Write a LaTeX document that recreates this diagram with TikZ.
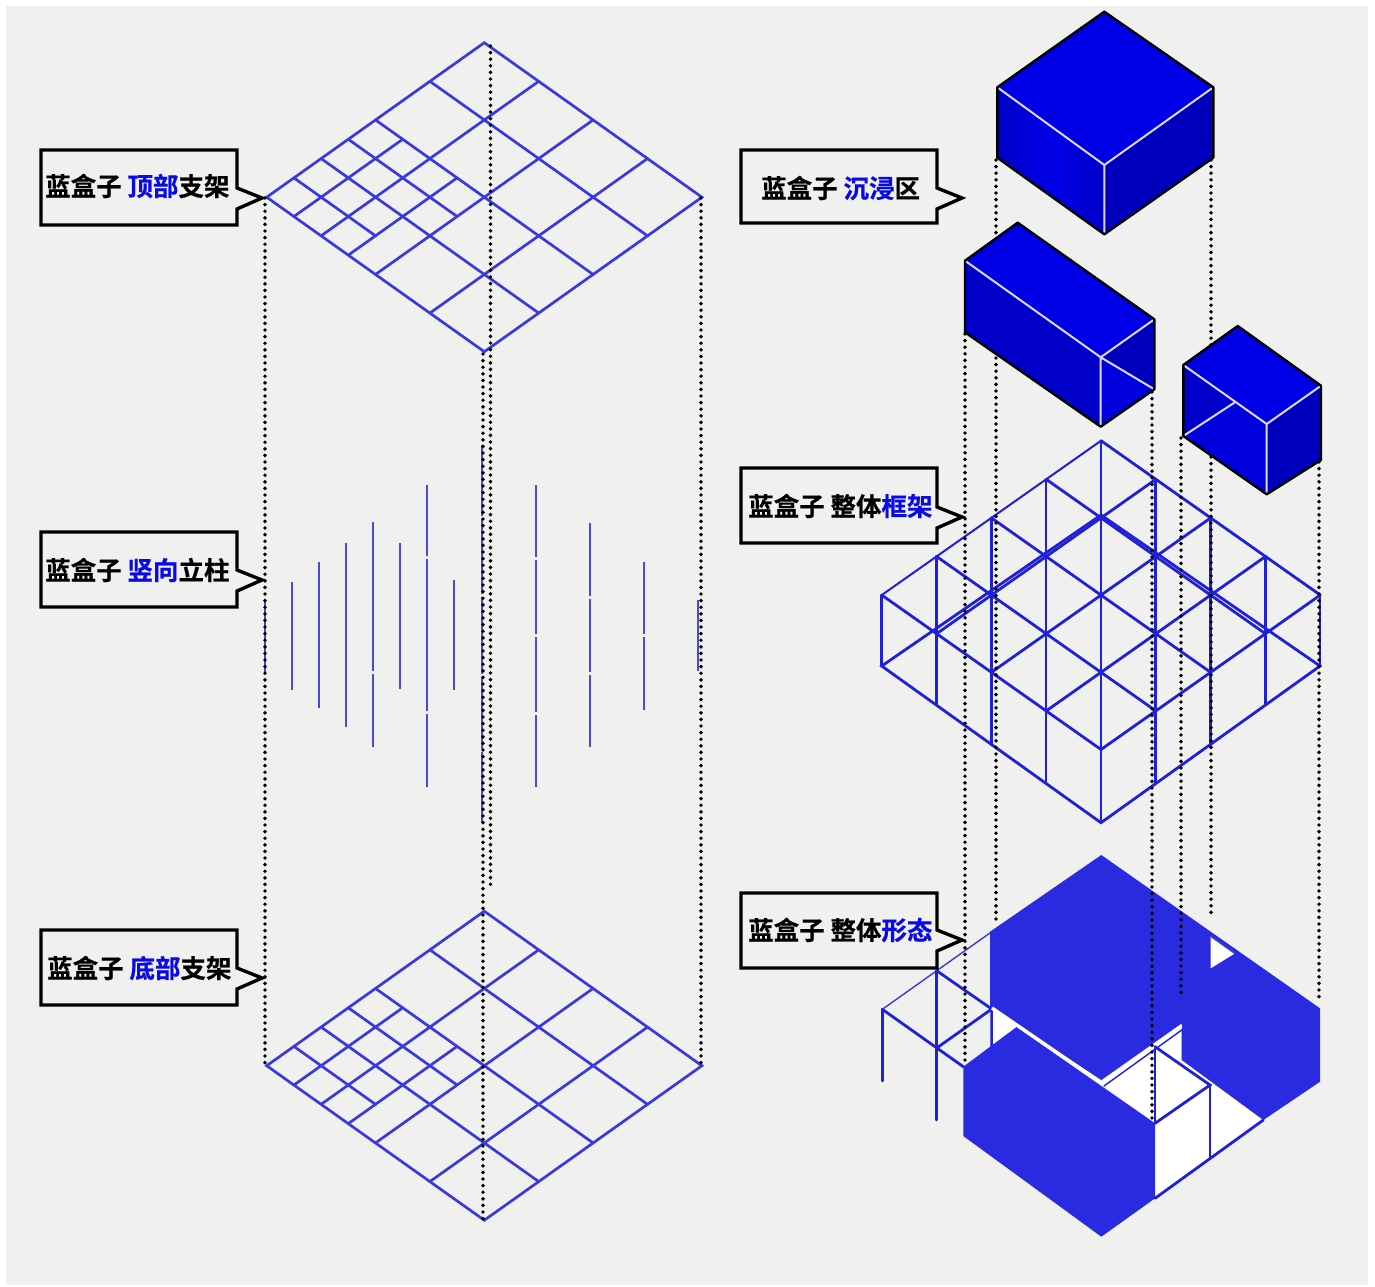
\documentclass[tikz,border=0pt]{standalone}
\usepackage{fontspec}
\setmainfont{Noto Sans CJK SC}[BoldFont={Noto Sans CJK SC Bold},BoldFeatures={FakeBold=0.6}]
\definecolor{bgc}{HTML}{F0F0EF}
\definecolor{gridc}{HTML}{3A3ADC}
\definecolor{postc}{HTML}{4A4AD8}
\definecolor{formc}{HTML}{2A2AE0}
\definecolor{framec}{HTML}{2020D8}
\definecolor{topc}{HTML}{0000E6}
\definecolor{leftc}{HTML}{0000C8}
\definecolor{rightc}{HTML}{0000BC}
\definecolor{brightc}{HTML}{0000DC}
\definecolor{labelc}{HTML}{0A0AE6}
\tikzset{
  gridline/.style={draw=gridc,line width=2.7pt,line cap=round},
  postline/.style={draw=postc,line width=2.6pt},
  frameline/.style={draw=framec,line width=2.8pt,line cap=round},
  thinline/.style={draw=gridc,line width=1.4pt},
  dotline/.style={draw=black,line width=3.9pt,line cap=round,dash pattern=on 0pt off 6.6pt},
  callout/.style={draw=black,line width=3.4pt,line join=miter,fill=bgc},
  calltext/.style={anchor=west,inner sep=0pt,font=\bfseries\fontsize{25.5}{27}\selectfont,text=black},
  boxedge/.style={draw=black,line width=2.4pt,line join=round},
  boxinner/.style={draw=white!85!blue,line width=2pt},
  gapdot/.style={draw=bgc,line width=4pt}
}
\newcommand{\bluepart}[1]{\textcolor{labelc}{#1}}
% isometric support grid, drawn at vertical offset #1
\newcommand{\supportgrid}[1]{%
  \begin{scope}[shift={(0,#1)}]
    \draw[gridline] (484.3,42.7)--(701.9,197.2)--(484.3,351.7)--(266.7,197.2)--cycle;
    \foreach \c in {2,4,6} {
      \draw[gridline] (484.3+\c*27.2-0*27.2,42.7+\c*19.31) -- (484.3+\c*27.2-8*27.2,42.7+\c*19.31+8*19.31);
      \draw[gridline] (484.3-\c*27.2,42.7+\c*19.31) -- (484.3-\c*27.2+8*27.2,42.7+\c*19.31+8*19.31);
    }
    \foreach \u in {1,3} \draw[gridline] (484.3+\u*27.2-4*27.2,42.7+\u*19.31+4*19.31) -- (484.3+\u*27.2-8*27.2,42.7+\u*19.31+8*19.31);
    \draw[gridline] (484.3-5*27.2,42.7+5*19.31) -- (484.3+4*27.2-5*27.2,42.7+9*19.31);
    \draw[gridline] (484.3-7*27.2,42.7+7*19.31) -- (484.3+3*27.2-7*27.2,42.7+10*19.31);
  \end{scope}}
% speech label: left, top, right, bottom, tip y, tip x
\newcommand{\calloutbox}[6]{%
  \draw[callout] (#1,#2) -- (#3,#2) -- (#3,#5-10) -- (#6,#5) -- (#3,#5+11) -- (#3,#4) -- (#1,#4) -- cycle;}
\begin{document}
\begin{tikzpicture}[x=1pt,y=-1pt]
\useasboundingbox (0,0) rectangle (1375,1286);
\fill[white] (0,0) rectangle (1375,1286);
\fill[bgc] (6,6) rectangle (1368,1285);

% ---- left column: supports ----
\supportgrid{0}
\supportgrid{868.5}

% vertical posts
\foreach \x/\a/\b in {265/600/672,292/582/690,319/562/708,346/543/727,373/522/747,400/543/689,427/485/787,454/580/690,482/445/823,536/485/787,590/523/747,644/562/710,698/600/671}
  \draw[postline] (\x,\a) -- (\x,\b);
\foreach \x/\y in {427/557,427/712,536/558,536/635,536/713,590/597,590/673,644/635,373/672,482/595,482/675,482/750,482/517}
  \draw[gapdot] (\x,\y-1.5) -- (\x,\y+1.5);

% dotted projection lines, left column
\coordinate (lt) at (265,198);
\coordinate (lb) at (265,1064);
\coordinate (rt) at (701,198);
\coordinate (rb) at (701,1064);
\coordinate (ca) at (490.5,46);
\coordinate (cb) at (490.5,890);
\coordinate (da) at (483,354);
\coordinate (db) at (483,1221);
\draw[dotline] (lt) -- (lb);
\draw[dotline] (rt) -- (rb);
\draw[dotline] (ca) -- (cb);
\draw[dotline] (da) -- (db);

% ---- right column: whole frame ----
\foreach \c in {1,2,3,4} {
  \draw[frameline] (1101+\c*54.8,440.7+\c*38.6) -- (1101+\c*54.8-4*54.8,440.7+\c*38.6+4*38.6);
  \draw[frameline] (1101-\c*54.8,440.7+\c*38.6) -- (1101-\c*54.8+4*54.8,440.7+\c*38.6+4*38.6);
}
\draw[frameline] (1101,440.7) -- (1320.2,595);
\draw[frameline,line width=2pt] (1101,440.7) -- (881.8,595);
\draw[frameline] (1101,515) -- (1320,666) -- (1101,822.7) -- (881.7,666) -- cycle;
\foreach \x/\a/\b in {881.7/595/666,936.5/556.4/705,991.3/517.8/745,1046/479.3/784,1101/440.7/822.7,1155.8/479.3/784,1210.6/517.8/745,1265.4/556.4/705,1320/595/666}
  \draw[frameline] (\x,\a) -- (\x,\b);

% ---- right column: whole form ----
\draw[thinline] (882.3,1009.3) -- (991.7,931.7);
\draw[frameline] (882.3,1009.3) -- (882.3,1081);
\draw[frameline] (936.7,970.7) -- (936.7,1120);
\draw[frameline] (882.3,1009.3) -- (963.3,1066.7);
\draw[frameline] (936.7,970.7) -- (991.7,1009);
\draw[frameline] (936.7,1048) -- (991.7,1009) -- (991.7,1047);
\fill[white] (993,1010) -- (1016.5,1027) -- (993,1045) -- cycle;
\fill[white] (1101.3,1083.3) -- (1155,1046.7) -- (1181.7,1023.3) -- (1181.7,1060) -- (1263.3,1120) -- (1155,1198.3) -- (1155,1123.3) -- cycle;
\fill[formc] (1101.3,855) -- (1320,1008.3) -- (1320,1081.7) -- (1263.3,1120) -- (1181.7,1060) -- (1181.7,1023.3) -- (1101.3,1080) -- (990,1006.7) -- (990,931.7) -- cycle;
\fill[white] (1210.7,936) -- (1235,953.3) -- (1210.7,968.3) -- cycle;
\draw[thinline,line width=1.8pt] (1210.7,936) -- (1235,953.3);
\fill[formc] (1016.5,1027) -- (963.3,1066.7) -- (963.3,1136) -- (1101.3,1236.7) -- (1155,1198.3) -- (1155,1123.3) -- (1101.3,1086) -- cycle;
\draw[white,line width=3.4pt] (992,1008) -- (1101.3,1083);
\draw[white,line width=2.6pt] (1102,1083) -- (1181.7,1026);
\draw[frameline] (1155,1046.7) -- (1210,1085) -- (1155,1123.3);
\draw[frameline] (1155,1046.7) -- (1155,1123.3);
\draw[frameline] (1210,1085) -- (1210,1158.3);
\draw[frameline] (1155,1198.3) -- (1263.3,1120);
\draw[frameline,line width=1.4pt] (1104,1086) -- (1181.7,1030);

% dotted projection lines, right column
\coordinate (ra1) at (965,334);
\coordinate (rb1) at (965,1062);
\coordinate (ra2) at (996,160);
\coordinate (rb2) at (996,922);
\coordinate (ra3) at (1152,392);
\coordinate (rb3) at (1152,1118);
\coordinate (ra4) at (1181,438);
\coordinate (rb4) at (1181,995);
\coordinate (ra5) at (1211,160);
\coordinate (rb5) at (1211,918);
\coordinate (ra6) at (1319,462);
\coordinate (rb6) at (1319,997);
\foreach \n in {1,...,6} \draw[dotline] (ra\n) -- (rb\n);

% ---- boxes ----
% immersion cube
\path[fill=topc] (1104.3,11.7) -- (1213.3,87.3) -- (1104.3,165) -- (997.3,87.3) -- cycle;
\path[left color=leftc,right color=leftc,middle color=topc] (997.3,87.3) -- (1104.3,165) -- (1104.3,234.3) -- (997.3,157.7) -- cycle;
\path[fill=rightc] (1213.3,87.3) -- (1104.3,165) -- (1104.3,234.3) -- (1213.3,157.7) -- cycle;
\draw[boxinner] (997.3,87.3) -- (1104.3,165) -- (1213.3,87.3) (1104.3,165) -- (1104.3,234.3);
\draw[boxedge] (1104.3,11.7) -- (1213.3,87.3) -- (1213.3,157.7) -- (1104.3,234.3) -- (997.3,157.7) -- (997.3,87.3) -- cycle;
% long box
\path[fill=topc] (1017.7,222.7) -- (1154.3,319.3) -- (1100.7,357.3) -- (965,260.7) -- cycle;
\path[fill=leftc] (965,260.7) -- (1100.7,357.3) -- (1100.7,426.7) -- (965,332.3) -- cycle;
\path[fill=rightc] (1100.7,357.3) -- (1154.3,319.3) -- (1154.3,389.3) -- cycle;
\path[fill=brightc] (1100.7,357.3) -- (1154.3,389.3) -- (1100.7,426.7) -- cycle;
\draw[boxinner] (965,260.7) -- (1100.7,357.3) -- (1154.3,319.3) (1100.7,357.3) -- (1100.7,426.7) (1100.7,357.3) -- (1154.3,389.3);
\draw[boxedge] (1017.7,222.7) -- (1154.3,319.3) -- (1154.3,389.3) -- (1100.7,426.7) -- (965,332.3) -- (965,260.7) -- cycle;
% small box
\path[fill=topc] (1237.7,326) -- (1321,385.7) -- (1266.7,424) -- (1183.3,365) -- cycle;
\path[fill=brightc] (1183.3,365) -- (1266.7,424) -- (1266.7,494.3) -- (1183.3,436) -- cycle;
\path[fill=leftc] (1183.3,365) -- (1234.3,402.7) -- (1183.3,436) -- cycle;
\path[fill=rightc] (1321,385.7) -- (1266.7,424) -- (1266.7,494.3) -- (1321,460) -- cycle;
\draw[boxinner] (1183.3,365) -- (1266.7,424) -- (1321,385.7) (1266.7,424) -- (1266.7,494.3) (1183.3,436) -- (1234.3,402.7);
\draw[boxedge] (1237.7,326) -- (1321,385.7) -- (1321,460) -- (1266.7,494.3) -- (1183.3,436) -- (1183.3,365) -- cycle;

% ---- labels ----
\calloutbox{41}{150}{237}{225}{198}{262}
\calloutbox{41}{532}{237}{607}{580}{262}
\calloutbox{41}{930}{237}{1005}{978}{262}
\calloutbox{741}{150}{937}{223}{198}{962}
\calloutbox{741}{468}{937}{543}{517}{962}
\calloutbox{741}{893}{937}{968}{940}{962}
\node[calltext] (t1) at (45,186) {蓝盒子 \bluepart{顶部}支架};
\node[calltext] (t2) at (45,570) {蓝盒子 \bluepart{竖向}立柱};
\node[calltext] (t3) at (47,968) {蓝盒子 \bluepart{底部}支架};
\node[calltext] (t4) at (761,188) {蓝盒子 \bluepart{沉浸}区};
\node[calltext] (t5) at (748,506) {蓝盒子 整体\bluepart{框架}};
\node[calltext] (t6) at (748,930) {蓝盒子 整体\bluepart{形态}};
\end{tikzpicture}
\end{document}
